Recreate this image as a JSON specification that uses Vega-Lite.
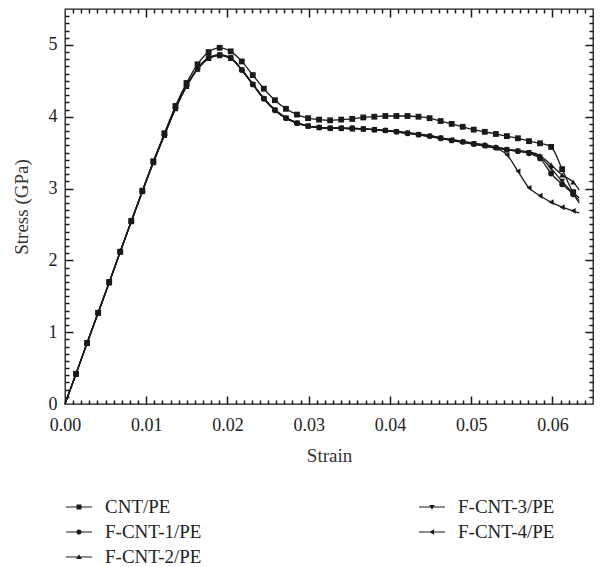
{
 "$schema": "https://vega.github.io/schema/vega-lite/v6.json",
 "width": 528, "height": 395,
 "autosize": "none",
 "padding": {"left": 65, "top": 9, "right": 8, "bottom": 163},
 "config": {
  "view": {"stroke": "#1a1a1a", "strokeWidth": 1.3},
  "font": "Liberation Serif",
  "axis": {"labelFont": "Liberation Serif", "titleFont": "Liberation Serif", "labelColor": "#222", "titleColor": "#333", "tickColor": "#1a1a1a", "domain": false, "grid": false, "titleFontWeight": "normal", "labelFontSize": 18, "titleFontSize": 19, "tickWidth": 1.5, "labelFlush": false, "tickOpacity": 1},
  "legend": {"labelFont": "Liberation Serif", "labelFontSize": 19, "labelColor": "#222", "symbolSize": 676, "labelOffset": 13, "rowPadding": 2, "columnPadding": 217, "symbolFillColor": "#1a1a1a", "symbolStrokeColor": "#1a1a1a", "symbolStrokeWidth": 0, "symbolOpacity": 1}
 },
 "datasets": {"curves": [
{"s":"CNT/PE","x":0,"y":0},{"s":"CNT/PE","x":0.00136,"y":0.42},{"s":"CNT/PE","x":0.00272,"y":0.85},{"s":"CNT/PE","x":0.00408,"y":1.27},{"s":"CNT/PE","x":0.00544,"y":1.70},{"s":"CNT/PE","x":0.0068,"y":2.12},{"s":"CNT/PE","x":0.00816,"y":2.55},{"s":"CNT/PE","x":0.00952,"y":2.97},{"s":"CNT/PE","x":0.01088,"y":3.38},{"s":"CNT/PE","x":0.01224,"y":3.77},{"s":"CNT/PE","x":0.0136,"y":4.15},{"s":"CNT/PE","x":0.01496,"y":4.47},{"s":"CNT/PE","x":0.01632,"y":4.73},{"s":"CNT/PE","x":0.01768,"y":4.90},{"s":"CNT/PE","x":0.01904,"y":4.96},{"s":"CNT/PE","x":0.0204,"y":4.91},{"s":"CNT/PE","x":0.02176,"y":4.77},{"s":"CNT/PE","x":0.02312,"y":4.58},{"s":"CNT/PE","x":0.02448,"y":4.39},{"s":"CNT/PE","x":0.02584,"y":4.23},{"s":"CNT/PE","x":0.0272,"y":4.11},{"s":"CNT/PE","x":0.02856,"y":4.03},{"s":"CNT/PE","x":0.02992,"y":3.98},{"s":"CNT/PE","x":0.03128,"y":3.96},{"s":"CNT/PE","x":0.03264,"y":3.95},{"s":"CNT/PE","x":0.034,"y":3.96},{"s":"CNT/PE","x":0.03536,"y":3.97},{"s":"CNT/PE","x":0.03672,"y":3.99},{"s":"CNT/PE","x":0.03808,"y":4.00},{"s":"CNT/PE","x":0.03944,"y":4.01},{"s":"CNT/PE","x":0.0408,"y":4.01},{"s":"CNT/PE","x":0.04216,"y":4.01},{"s":"CNT/PE","x":0.04352,"y":4.00},{"s":"CNT/PE","x":0.04488,"y":3.98},{"s":"CNT/PE","x":0.04624,"y":3.94},{"s":"CNT/PE","x":0.0476,"y":3.90},{"s":"CNT/PE","x":0.04896,"y":3.86},{"s":"CNT/PE","x":0.05032,"y":3.82},{"s":"CNT/PE","x":0.05168,"y":3.79},{"s":"CNT/PE","x":0.05304,"y":3.76},{"s":"CNT/PE","x":0.0544,"y":3.73},{"s":"CNT/PE","x":0.05576,"y":3.70},{"s":"CNT/PE","x":0.05712,"y":3.66},{"s":"CNT/PE","x":0.05848,"y":3.63},{"s":"CNT/PE","x":0.05984,"y":3.58},{"s":"CNT/PE","x":0.0612,"y":3.27},{"s":"CNT/PE","x":0.06256,"y":2.95},{"s":"CNT/PE","x":0.0633,"y":2.87},
{"s":"F-CNT-1/PE","x":0,"y":0},{"s":"F-CNT-1/PE","x":0.00136,"y":0.42},{"s":"F-CNT-1/PE","x":0.00272,"y":0.85},{"s":"F-CNT-1/PE","x":0.00408,"y":1.27},{"s":"F-CNT-1/PE","x":0.00544,"y":1.69},{"s":"F-CNT-1/PE","x":0.0068,"y":2.12},{"s":"F-CNT-1/PE","x":0.00816,"y":2.54},{"s":"F-CNT-1/PE","x":0.00952,"y":2.96},{"s":"F-CNT-1/PE","x":0.01088,"y":3.37},{"s":"F-CNT-1/PE","x":0.01224,"y":3.75},{"s":"F-CNT-1/PE","x":0.0136,"y":4.12},{"s":"F-CNT-1/PE","x":0.01496,"y":4.43},{"s":"F-CNT-1/PE","x":0.01632,"y":4.67},{"s":"F-CNT-1/PE","x":0.01768,"y":4.82},{"s":"F-CNT-1/PE","x":0.01904,"y":4.86},{"s":"F-CNT-1/PE","x":0.0204,"y":4.82},{"s":"F-CNT-1/PE","x":0.02176,"y":4.65},{"s":"F-CNT-1/PE","x":0.02312,"y":4.45},{"s":"F-CNT-1/PE","x":0.02448,"y":4.25},{"s":"F-CNT-1/PE","x":0.02584,"y":4.09},{"s":"F-CNT-1/PE","x":0.0272,"y":3.98},{"s":"F-CNT-1/PE","x":0.02856,"y":3.91},{"s":"F-CNT-1/PE","x":0.02992,"y":3.87},{"s":"F-CNT-1/PE","x":0.03128,"y":3.85},{"s":"F-CNT-1/PE","x":0.03264,"y":3.84},{"s":"F-CNT-1/PE","x":0.034,"y":3.84},{"s":"F-CNT-1/PE","x":0.03536,"y":3.84},{"s":"F-CNT-1/PE","x":0.03672,"y":3.83},{"s":"F-CNT-1/PE","x":0.03808,"y":3.82},{"s":"F-CNT-1/PE","x":0.03944,"y":3.81},{"s":"F-CNT-1/PE","x":0.0408,"y":3.79},{"s":"F-CNT-1/PE","x":0.04216,"y":3.77},{"s":"F-CNT-1/PE","x":0.04352,"y":3.75},{"s":"F-CNT-1/PE","x":0.04488,"y":3.73},{"s":"F-CNT-1/PE","x":0.04624,"y":3.70},{"s":"F-CNT-1/PE","x":0.0476,"y":3.67},{"s":"F-CNT-1/PE","x":0.04896,"y":3.65},{"s":"F-CNT-1/PE","x":0.05032,"y":3.62},{"s":"F-CNT-1/PE","x":0.05168,"y":3.60},{"s":"F-CNT-1/PE","x":0.05304,"y":3.57},{"s":"F-CNT-1/PE","x":0.0544,"y":3.54},{"s":"F-CNT-1/PE","x":0.05576,"y":3.52},{"s":"F-CNT-1/PE","x":0.05712,"y":3.49},{"s":"F-CNT-1/PE","x":0.05848,"y":3.42},{"s":"F-CNT-1/PE","x":0.05984,"y":3.21},{"s":"F-CNT-1/PE","x":0.0612,"y":3.06},{"s":"F-CNT-1/PE","x":0.06256,"y":2.92},{"s":"F-CNT-1/PE","x":0.0633,"y":2.80},
{"s":"F-CNT-2/PE","x":0,"y":0},{"s":"F-CNT-2/PE","x":0.00136,"y":0.42},{"s":"F-CNT-2/PE","x":0.00272,"y":0.85},{"s":"F-CNT-2/PE","x":0.00408,"y":1.27},{"s":"F-CNT-2/PE","x":0.00544,"y":1.69},{"s":"F-CNT-2/PE","x":0.0068,"y":2.12},{"s":"F-CNT-2/PE","x":0.00816,"y":2.54},{"s":"F-CNT-2/PE","x":0.00952,"y":2.96},{"s":"F-CNT-2/PE","x":0.01088,"y":3.36},{"s":"F-CNT-2/PE","x":0.01224,"y":3.74},{"s":"F-CNT-2/PE","x":0.0136,"y":4.11},{"s":"F-CNT-2/PE","x":0.01496,"y":4.42},{"s":"F-CNT-2/PE","x":0.01632,"y":4.66},{"s":"F-CNT-2/PE","x":0.01768,"y":4.81},{"s":"F-CNT-2/PE","x":0.01904,"y":4.85},{"s":"F-CNT-2/PE","x":0.0204,"y":4.81},{"s":"F-CNT-2/PE","x":0.02176,"y":4.66},{"s":"F-CNT-2/PE","x":0.02312,"y":4.46},{"s":"F-CNT-2/PE","x":0.02448,"y":4.26},{"s":"F-CNT-2/PE","x":0.02584,"y":4.10},{"s":"F-CNT-2/PE","x":0.0272,"y":3.99},{"s":"F-CNT-2/PE","x":0.02856,"y":3.92},{"s":"F-CNT-2/PE","x":0.02992,"y":3.87},{"s":"F-CNT-2/PE","x":0.03128,"y":3.85},{"s":"F-CNT-2/PE","x":0.03264,"y":3.84},{"s":"F-CNT-2/PE","x":0.034,"y":3.84},{"s":"F-CNT-2/PE","x":0.03536,"y":3.83},{"s":"F-CNT-2/PE","x":0.03672,"y":3.83},{"s":"F-CNT-2/PE","x":0.03808,"y":3.82},{"s":"F-CNT-2/PE","x":0.03944,"y":3.81},{"s":"F-CNT-2/PE","x":0.0408,"y":3.80},{"s":"F-CNT-2/PE","x":0.04216,"y":3.78},{"s":"F-CNT-2/PE","x":0.04352,"y":3.76},{"s":"F-CNT-2/PE","x":0.04488,"y":3.74},{"s":"F-CNT-2/PE","x":0.04624,"y":3.71},{"s":"F-CNT-2/PE","x":0.0476,"y":3.68},{"s":"F-CNT-2/PE","x":0.04896,"y":3.66},{"s":"F-CNT-2/PE","x":0.05032,"y":3.63},{"s":"F-CNT-2/PE","x":0.05168,"y":3.61},{"s":"F-CNT-2/PE","x":0.05304,"y":3.58},{"s":"F-CNT-2/PE","x":0.0544,"y":3.55},{"s":"F-CNT-2/PE","x":0.05576,"y":3.53},{"s":"F-CNT-2/PE","x":0.05712,"y":3.51},{"s":"F-CNT-2/PE","x":0.05848,"y":3.46},{"s":"F-CNT-2/PE","x":0.05984,"y":3.33},{"s":"F-CNT-2/PE","x":0.0612,"y":3.19},{"s":"F-CNT-2/PE","x":0.06256,"y":3.09},{"s":"F-CNT-2/PE","x":0.0633,"y":2.98},
{"s":"F-CNT-3/PE","x":0,"y":0},{"s":"F-CNT-3/PE","x":0.00136,"y":0.42},{"s":"F-CNT-3/PE","x":0.00272,"y":0.85},{"s":"F-CNT-3/PE","x":0.00408,"y":1.27},{"s":"F-CNT-3/PE","x":0.00544,"y":1.69},{"s":"F-CNT-3/PE","x":0.0068,"y":2.12},{"s":"F-CNT-3/PE","x":0.00816,"y":2.54},{"s":"F-CNT-3/PE","x":0.00952,"y":2.96},{"s":"F-CNT-3/PE","x":0.01088,"y":3.37},{"s":"F-CNT-3/PE","x":0.01224,"y":3.75},{"s":"F-CNT-3/PE","x":0.0136,"y":4.12},{"s":"F-CNT-3/PE","x":0.01496,"y":4.43},{"s":"F-CNT-3/PE","x":0.01632,"y":4.67},{"s":"F-CNT-3/PE","x":0.01768,"y":4.82},{"s":"F-CNT-3/PE","x":0.01904,"y":4.86},{"s":"F-CNT-3/PE","x":0.0204,"y":4.82},{"s":"F-CNT-3/PE","x":0.02176,"y":4.65},{"s":"F-CNT-3/PE","x":0.02312,"y":4.45},{"s":"F-CNT-3/PE","x":0.02448,"y":4.25},{"s":"F-CNT-3/PE","x":0.02584,"y":4.09},{"s":"F-CNT-3/PE","x":0.0272,"y":3.98},{"s":"F-CNT-3/PE","x":0.02856,"y":3.91},{"s":"F-CNT-3/PE","x":0.02992,"y":3.87},{"s":"F-CNT-3/PE","x":0.03128,"y":3.85},{"s":"F-CNT-3/PE","x":0.03264,"y":3.84},{"s":"F-CNT-3/PE","x":0.034,"y":3.84},{"s":"F-CNT-3/PE","x":0.03536,"y":3.84},{"s":"F-CNT-3/PE","x":0.03672,"y":3.83},{"s":"F-CNT-3/PE","x":0.03808,"y":3.82},{"s":"F-CNT-3/PE","x":0.03944,"y":3.80},{"s":"F-CNT-3/PE","x":0.0408,"y":3.79},{"s":"F-CNT-3/PE","x":0.04216,"y":3.77},{"s":"F-CNT-3/PE","x":0.04352,"y":3.75},{"s":"F-CNT-3/PE","x":0.04488,"y":3.72},{"s":"F-CNT-3/PE","x":0.04624,"y":3.70},{"s":"F-CNT-3/PE","x":0.0476,"y":3.67},{"s":"F-CNT-3/PE","x":0.04896,"y":3.64},{"s":"F-CNT-3/PE","x":0.05032,"y":3.62},{"s":"F-CNT-3/PE","x":0.05168,"y":3.59},{"s":"F-CNT-3/PE","x":0.05304,"y":3.56},{"s":"F-CNT-3/PE","x":0.0544,"y":3.54},{"s":"F-CNT-3/PE","x":0.05576,"y":3.52},{"s":"F-CNT-3/PE","x":0.05712,"y":3.50},{"s":"F-CNT-3/PE","x":0.05848,"y":3.44},{"s":"F-CNT-3/PE","x":0.05984,"y":3.28},{"s":"F-CNT-3/PE","x":0.0612,"y":3.10},{"s":"F-CNT-3/PE","x":0.06256,"y":2.93},{"s":"F-CNT-3/PE","x":0.0633,"y":2.83},
{"s":"F-CNT-4/PE","x":0,"y":0},{"s":"F-CNT-4/PE","x":0.00136,"y":0.42},{"s":"F-CNT-4/PE","x":0.00272,"y":0.85},{"s":"F-CNT-4/PE","x":0.00408,"y":1.27},{"s":"F-CNT-4/PE","x":0.00544,"y":1.69},{"s":"F-CNT-4/PE","x":0.0068,"y":2.12},{"s":"F-CNT-4/PE","x":0.00816,"y":2.54},{"s":"F-CNT-4/PE","x":0.00952,"y":2.96},{"s":"F-CNT-4/PE","x":0.01088,"y":3.37},{"s":"F-CNT-4/PE","x":0.01224,"y":3.75},{"s":"F-CNT-4/PE","x":0.0136,"y":4.12},{"s":"F-CNT-4/PE","x":0.01496,"y":4.43},{"s":"F-CNT-4/PE","x":0.01632,"y":4.67},{"s":"F-CNT-4/PE","x":0.01768,"y":4.82},{"s":"F-CNT-4/PE","x":0.01904,"y":4.86},{"s":"F-CNT-4/PE","x":0.0204,"y":4.82},{"s":"F-CNT-4/PE","x":0.02176,"y":4.65},{"s":"F-CNT-4/PE","x":0.02312,"y":4.45},{"s":"F-CNT-4/PE","x":0.02448,"y":4.25},{"s":"F-CNT-4/PE","x":0.02584,"y":4.09},{"s":"F-CNT-4/PE","x":0.0272,"y":3.98},{"s":"F-CNT-4/PE","x":0.02856,"y":3.91},{"s":"F-CNT-4/PE","x":0.02992,"y":3.87},{"s":"F-CNT-4/PE","x":0.03128,"y":3.85},{"s":"F-CNT-4/PE","x":0.03264,"y":3.84},{"s":"F-CNT-4/PE","x":0.034,"y":3.84},{"s":"F-CNT-4/PE","x":0.03536,"y":3.83},{"s":"F-CNT-4/PE","x":0.03672,"y":3.83},{"s":"F-CNT-4/PE","x":0.03808,"y":3.82},{"s":"F-CNT-4/PE","x":0.03944,"y":3.81},{"s":"F-CNT-4/PE","x":0.0408,"y":3.79},{"s":"F-CNT-4/PE","x":0.04216,"y":3.77},{"s":"F-CNT-4/PE","x":0.04352,"y":3.75},{"s":"F-CNT-4/PE","x":0.04488,"y":3.73},{"s":"F-CNT-4/PE","x":0.04624,"y":3.70},{"s":"F-CNT-4/PE","x":0.0476,"y":3.68},{"s":"F-CNT-4/PE","x":0.04896,"y":3.65},{"s":"F-CNT-4/PE","x":0.05032,"y":3.62},{"s":"F-CNT-4/PE","x":0.05168,"y":3.59},{"s":"F-CNT-4/PE","x":0.05304,"y":3.56},{"s":"F-CNT-4/PE","x":0.0544,"y":3.47},{"s":"F-CNT-4/PE","x":0.05576,"y":3.24},{"s":"F-CNT-4/PE","x":0.05712,"y":3.01},{"s":"F-CNT-4/PE","x":0.05848,"y":2.90},{"s":"F-CNT-4/PE","x":0.05984,"y":2.81},{"s":"F-CNT-4/PE","x":0.0612,"y":2.74},{"s":"F-CNT-4/PE","x":0.06256,"y":2.69},{"s":"F-CNT-4/PE","x":0.0633,"y":2.66}
 ]},
 "data": {"name": "curves"},
 "layer": [
  {
   "mark": {"type": "line", "interpolate": "monotone", "strokeWidth": 1.3, "color": "#1a1a1a"},
   "encoding": {
    "x": {"field": "x", "type": "quantitative", "scale": {"domain": [0, 0.065], "nice": false, "zero": false},
          "axis": {"orient": "bottom", "values": [0, 0.01, 0.02, 0.03, 0.04, 0.05, 0.06], "format": ".2f", "ticks": false, "labelPadding": 12, "title": "Strain", "titlePadding": 12}},
    "y": {"field": "y", "type": "quantitative", "scale": {"domain": [0, 5.5], "nice": false},
          "axis": {"orient": "left", "values": [0, 1, 2, 3, 4, 5], "format": "d", "ticks": false, "labelPadding": 8, "title": "Stress (GPa)", "titlePadding": 17}},
    "detail": {"field": "s", "type": "nominal"}
   }
  },
  {
   "transform": [{"filter": "datum.x > 0 && datum.x < 0.063"}],
   "mark": {"type": "point", "filled": true, "opacity": 1, "color": "#1a1a1a", "size": 34},
   "encoding": {
    "x": {"field": "x", "type": "quantitative", "axis": null},
    "y": {"field": "y", "type": "quantitative", "axis": null},
    "shape": {"field": "s", "type": "nominal", "legend": null,
      "scale": {"domain": ["CNT/PE", "F-CNT-1/PE", "F-CNT-2/PE", "F-CNT-3/PE", "F-CNT-4/PE"], "range": ["square", "circle", "triangle-up", "triangle-down", "triangle-left"]}}
   }
  },
  {
   "transform": [{"filter": "datum.x < 0"}],
   "mark": {"type": "point", "filled": true, "opacity": 1, "color": "#1a1a1a"},
   "encoding": {
    "x": {"field": "x", "type": "quantitative", "axis": null},
    "y": {"field": "y", "type": "quantitative", "axis": null},
    "shape": {"field": "s", "type": "nominal",
      "scale": {"domain": ["CNT/PE", "F-CNT-1/PE", "F-CNT-2/PE", "F-CNT-3/PE", "F-CNT-4/PE"],
                "range": ["M-1,-0.045H1V0.045H-1ZM-0.19,-0.19H0.19V0.19H-0.19Z", "M-1,-0.045H1V0.045H-1ZM0.2,0A0.2,0.2,0,1,1,-0.2,0A0.2,0.2,0,1,1,0.2,0Z", "M-1,-0.045H1V0.045H-1ZM0,-0.22L0.22,0.16L-0.22,0.16Z", "M-1,-0.045H1V0.045H-1ZM0,0.22L-0.22,-0.16L0.22,-0.16Z", "M-1,-0.045H1V0.045H-1ZM-0.22,0L0.16,-0.22L0.16,0.22Z"]},
      "legend": {"title": null, "orient": "none", "legendX": 1, "legendY": 485, "columns": 2}}
   }
  },
  {
   "mark": {"type": "point", "opacity": 0},
   "encoding": {
    "x": {"field": "x", "type": "quantitative", "axis": {"orient": "bottom", "offset": -8, "values": [0.01, 0.02, 0.03, 0.04, 0.05, 0.06], "tickSize": 8, "labels": false, "title": null}},
    "y": {"field": "y", "type": "quantitative", "axis": {"orient": "left", "offset": -8, "values": [1, 2, 3, 4, 5], "tickSize": 8, "labels": false, "title": null}}
   }
  },
  {
   "mark": {"type": "point", "opacity": 0},
   "encoding": {
    "x": {"field": "x", "type": "quantitative", "axis": {"orient": "bottom", "offset": -4, "values": [0.001,0.002,0.003,0.004,0.005,0.006,0.007,0.008,0.009,0.011,0.012,0.013,0.014,0.015,0.016,0.017,0.018,0.019,0.021,0.022,0.023,0.024,0.025,0.026,0.027,0.028,0.029,0.031,0.032,0.033,0.034,0.035,0.036,0.037,0.038,0.039,0.041,0.042,0.043,0.044,0.045,0.046,0.047,0.048,0.049,0.051,0.052,0.053,0.054,0.055,0.056,0.057,0.058,0.059,0.061,0.062,0.063,0.064], "tickSize": 4, "labels": false, "title": null}},
    "y": {"field": "y", "type": "quantitative", "axis": {"orient": "left", "offset": -4, "values": [0.1,0.2,0.3,0.4,0.5,0.6,0.7,0.8,0.9,1.1,1.2,1.3,1.4,1.5,1.6,1.7,1.8,1.9,2.1,2.2,2.3,2.4,2.5,2.6,2.7,2.8,2.9,3.1,3.2,3.3,3.4,3.5,3.6,3.7,3.8,3.9,4.1,4.2,4.3,4.4,4.5,4.6,4.7,4.8,4.9,5.1,5.2,5.3,5.4], "tickSize": 4, "labels": false, "title": null}}
   }
  },
  {
   "mark": {"type": "point", "opacity": 0},
   "encoding": {
    "x": {"field": "x", "type": "quantitative", "axis": {"orient": "top", "offset": -8, "values": [0.01, 0.02, 0.03, 0.04, 0.05, 0.06], "tickSize": 8, "labels": false, "title": null}},
    "y": {"field": "y", "type": "quantitative", "axis": {"orient": "right", "offset": -8, "values": [1, 2, 3, 4, 5], "tickSize": 8, "labels": false, "title": null}}
   }
  },
  {
   "mark": {"type": "point", "opacity": 0},
   "encoding": {
    "x": {"field": "x", "type": "quantitative", "axis": {"orient": "top", "offset": -4, "values": [0.001,0.002,0.003,0.004,0.005,0.006,0.007,0.008,0.009,0.011,0.012,0.013,0.014,0.015,0.016,0.017,0.018,0.019,0.021,0.022,0.023,0.024,0.025,0.026,0.027,0.028,0.029,0.031,0.032,0.033,0.034,0.035,0.036,0.037,0.038,0.039,0.041,0.042,0.043,0.044,0.045,0.046,0.047,0.048,0.049,0.051,0.052,0.053,0.054,0.055,0.056,0.057,0.058,0.059,0.061,0.062,0.063,0.064], "tickSize": 4, "labels": false, "title": null}},
    "y": {"field": "y", "type": "quantitative", "axis": {"orient": "right", "offset": -4, "values": [0.1,0.2,0.3,0.4,0.5,0.6,0.7,0.8,0.9,1.1,1.2,1.3,1.4,1.5,1.6,1.7,1.8,1.9,2.1,2.2,2.3,2.4,2.5,2.6,2.7,2.8,2.9,3.1,3.2,3.3,3.4,3.5,3.6,3.7,3.8,3.9,4.1,4.2,4.3,4.4,4.5,4.6,4.7,4.8,4.9,5.1,5.2,5.3,5.4], "tickSize": 4, "labels": false, "title": null}}
   }
  }
 ],
 "resolve": {"axis": {"x": "independent", "y": "independent"}, "scale": {"shape": "independent"}}
}
